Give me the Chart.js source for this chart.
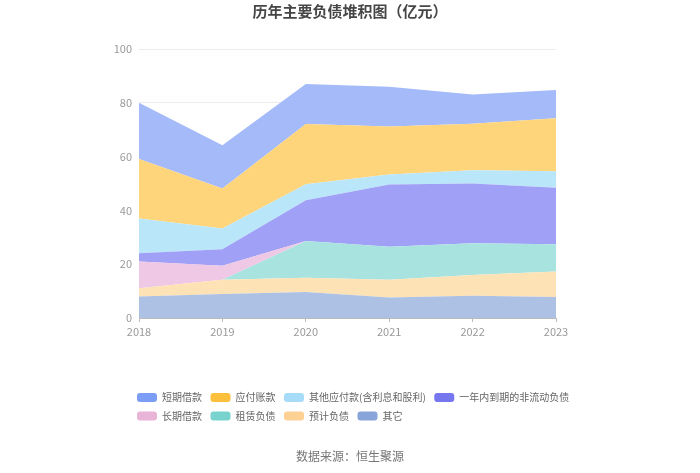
<!DOCTYPE html>
<html>
<head>
<meta charset="utf-8">
<script src="https://cdn.jsdelivr.net/npm/chart.js@4/dist/chart.umd.min.js"></script>
<style>
html,body{margin:0;padding:0;background:#fff;}
canvas{display:block;}
</style>
</head>
<body>
<canvas id="c" width="700" height="473"></canvas>
<script>
// ---- data (亿元) ----
const years = ['2018', '2019', '2020', '2021', '2022', '2023'];
const seriesNames = ['其它', '预计负债', '租赁负债', '长期借款', '一年内到期的非流动负债', '其他应付款(含利息和股利)', '应付账款', '短期借款'];
const otherVals      = [8.0, 8.9, 9.7, 7.6, 8.3, 7.8];
const provisionVals  = [3.1, 5.3, 5.3, 6.6, 7.7, 9.5];
const leaseVals      = [0, 0, 13.6, 12.3, 11.8, 10.1];
const longLoanVals   = [9.9, 5.2, 0, 0, 0, 0];
const currentNCLVals = [3.1, 6.2, 15.2, 23.1, 22.2, 21.0];
const otherPayVals   = [12.9, 7.7, 5.9, 3.7, 4.9, 6.2];
const payableVals    = [22.1, 14.8, 22.4, 17.9, 17.3, 19.7];
const shortLoanVals  = [20.9, 16.1, 14.9, 14.8, 10.9, 10.5];
const yTicks = [0, 20, 40, 60, 80, 100];

const seriesValues = [otherVals, provisionVals, leaseVals, longLoanVals, currentNCLVals, otherPayVals, payableVals, shortLoanVals];
const areaColors   = ['#adc1e4', '#fde2b6', '#a9e3e0', '#eec8e4', '#a0a0f6', '#bae6fa', '#fed57b', '#a5baf9'];
const legendColors = ['#88a5d9', '#fdd194', '#78d3cf', '#e8b4d8', '#7676ef', '#a6dcf8', '#fcc03c', '#7c9df6'];

const FONT = '"Noto Sans CJK SC", "Noto Sans", sans-serif';
Chart.defaults.font.family = FONT;

const datasets = seriesNames.map((name, i) => ({
  label: name,
  data: seriesValues[i],
  backgroundColor: areaColors[i],
  borderColor: 'rgba(0,0,0,0)',
  borderWidth: 0,
  pointRadius: 0,
  pointHoverRadius: 0,
  tension: 0,
  fill: i === 0 ? 'origin' : '-1'
}));

// keep the legend rows left-aligned under the plot, like the original
const legendShift = {
  id: 'legendShift',
  afterLayout(chart) {
    const lg = chart.legend;
    if (!lg) return;
    const dx = 128.5 - lg.left;
    lg.left += dx;
    lg.right += dx;
  }
};

new Chart(document.getElementById('c'), {
  type: 'line',
  data: { labels: years, datasets },
  plugins: [legendShift],
  options: {
    responsive: false,
    animation: false,
    devicePixelRatio: 1,
    layout: { padding: { left: 113, right: 113, top: 0, bottom: 0 } },
    plugins: {
      tooltip: { enabled: false },
      title: {
        display: true,
        text: '历年主要负债堆积图（亿元）',
        color: '#464646',
        font: { size: 15, weight: 'bold', family: FONT },
        padding: { top: 2, bottom: 29 }
      },
      subtitle: {
        display: true,
        position: 'bottom',
        text: '数据来源：恒生聚源',
        color: '#777',
        font: { size: 12, family: FONT },
        padding: { top: 17.8, bottom: 9.8 }
      },
      legend: {
        position: 'bottom',
        align: 'start',
        reverse: true,
        labels: {
          boxWidth: 20,
          boxHeight: 9,
          padding: 8.5,
          color: '#666',
          font: { size: 10, family: FONT },
          useBorderRadius: true,
          borderRadius: 3,
          generateLabels(chart) {
            const items = Chart.defaults.plugins.legend.labels.generateLabels(chart);
            items.forEach(it => {
              it.fillStyle = legendColors[it.datasetIndex];
              it.strokeStyle = legendColors[it.datasetIndex];
              it.lineWidth = 0;
            });
            return items;
          }
        }
      }
    },
    scales: {
      x: {
        type: 'category',
        offset: false,
        grid: { display: true, drawOnChartArea: false, drawTicks: true, tickLength: 4, color: '#bbb' },
        border: { display: true, color: '#bbb' },
        ticks: { color: '#999', font: { size: 11 }, padding: 3, maxRotation: 0, autoSkip: false },
        afterFit(s) { s.height = 66; s.paddingRight = 144; }
      },
      y: {
        stacked: true,
        min: 0,
        max: 100,
        grid: { color: '#ececec', drawTicks: false },
        border: { display: false },
        ticks: {
          color: '#999', font: { size: 11 }, padding: 7, stepSize: 20,
          callback: (v) => yTicks.includes(v) ? String(v) : ''
        },
        afterFit(s) { s.width = 26; }
      }
    }
  }
});
</script>
</body>
</html>
